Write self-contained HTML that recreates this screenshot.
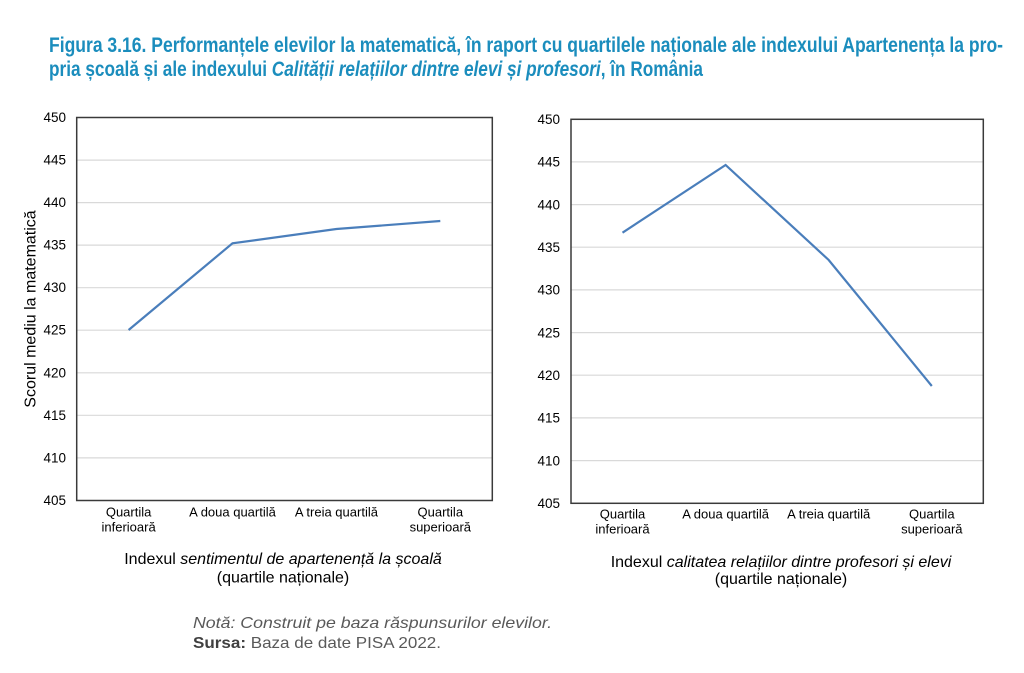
<!DOCTYPE html>
<html><head><meta charset="utf-8"><style>html,body{margin:0;padding:0;background:#fff}svg{display:block}</style></head><body>
<svg width="1024" height="673" viewBox="0 0 1024 673" xmlns="http://www.w3.org/2000/svg" font-family="'Liberation Sans', Arial, sans-serif">
<rect width="1024" height="673" fill="#fff"/>
<!-- Title -->
<text x="49" y="52" font-size="21" font-weight="bold" fill="#1b8dbd" textLength="954" lengthAdjust="spacingAndGlyphs">Figura 3.16. Performanțele elevilor la matematică, în raport cu quartilele naționale ale indexului Apartenența la pro-</text>
<text x="49" y="76" font-size="21" font-weight="bold" fill="#1b8dbd" textLength="654" lengthAdjust="spacingAndGlyphs">pria școală și ale indexului <tspan font-style="italic">Calității relațiilor dintre elevi și profesori</tspan>, în România</text>

<!-- Left chart grid -->
<g stroke="#d9d9d9" stroke-width="1.2">
<line x1="77" x2="492" y1="160.1" y2="160.1"/>
<line x1="77" x2="492" y1="202.6" y2="202.6"/>
<line x1="77" x2="492" y1="245.1" y2="245.1"/>
<line x1="77" x2="492" y1="287.7" y2="287.7"/>
<line x1="77" x2="492" y1="330.2" y2="330.2"/>
<line x1="77" x2="492" y1="372.8" y2="372.8"/>
<line x1="77" x2="492" y1="415.3" y2="415.3"/>
<line x1="77" x2="492" y1="457.9" y2="457.9"/>
</g>
<rect x="76.7" y="117.5" width="415.6" height="383" fill="none" stroke="#3a3a3a" stroke-width="1.5"/>
<g font-size="13.5" fill="#000" text-anchor="end">
<text x="66" y="122">450</text>
<text x="66" y="164.6">445</text>
<text x="66" y="207.1">440</text>
<text x="66" y="249.6">435</text>
<text x="66" y="292.2">430</text>
<text x="66" y="334.7">425</text>
<text x="66" y="377.3">420</text>
<text x="66" y="419.8">415</text>
<text x="66" y="462.4">410</text>
<text x="66" y="505">405</text>
</g>
<polyline points="128.6,330 232.5,243.3 336.4,229 440.3,221" fill="none" stroke="#4a7ebb" stroke-width="2.2" stroke-linejoin="miter"/>
<text transform="translate(35.5,309) rotate(-90)" font-size="16" text-anchor="middle" fill="#000">Scorul mediu la matematică</text>
<g font-size="13" text-anchor="middle" fill="#000">
<text x="128.6" y="516.5">Quartila</text>
<text x="128.6" y="531.5">inferioară</text>
<text x="232.5" y="516.5">A doua quartilă</text>
<text x="336.4" y="516.5">A treia quartilă</text>
<text x="440.3" y="516.5">Quartila</text>
<text x="440.3" y="531.5">superioară</text>
</g>
<g font-size="16" text-anchor="middle" fill="#000">
<text x="283" y="564">Indexul <tspan font-style="italic">sentimentul de apartenență la școală</tspan></text>
<text x="283" y="582.5">(quartile naționale)</text>
</g>

<!-- Right chart grid -->
<g stroke="#d9d9d9" stroke-width="1.2">
<line x1="571" x2="983" y1="161.9" y2="161.9"/>
<line x1="571" x2="983" y1="204.6" y2="204.6"/>
<line x1="571" x2="983" y1="247.2" y2="247.2"/>
<line x1="571" x2="983" y1="289.9" y2="289.9"/>
<line x1="571" x2="983" y1="332.6" y2="332.6"/>
<line x1="571" x2="983" y1="375.2" y2="375.2"/>
<line x1="571" x2="983" y1="417.9" y2="417.9"/>
<line x1="571" x2="983" y1="460.6" y2="460.6"/>
</g>
<rect x="571" y="119.3" width="412.3" height="384" fill="none" stroke="#3a3a3a" stroke-width="1.5"/>
<g font-size="13.5" fill="#000" text-anchor="end">
<text x="560" y="124">450</text>
<text x="560" y="166.6">445</text>
<text x="560" y="209.3">440</text>
<text x="560" y="251.9">435</text>
<text x="560" y="294.6">430</text>
<text x="560" y="337.3">425</text>
<text x="560" y="379.9">420</text>
<text x="560" y="422.6">415</text>
<text x="560" y="465.3">410</text>
<text x="560" y="508">405</text>
</g>
<polyline points="622.5,232.7 725.6,165 828.7,260 931.8,386" fill="none" stroke="#4a7ebb" stroke-width="2.2" stroke-linejoin="miter"/>
<g font-size="13" text-anchor="middle" fill="#000">
<text x="622.5" y="518.5">Quartila</text>
<text x="622.5" y="533.5">inferioară</text>
<text x="725.6" y="518.5">A doua quartilă</text>
<text x="828.7" y="518.5">A treia quartilă</text>
<text x="931.8" y="518.5">Quartila</text>
<text x="931.8" y="533.5">superioară</text>
</g>
<g font-size="16" text-anchor="middle" fill="#000">
<text x="781" y="567">Indexul <tspan font-style="italic">calitatea relațiilor dintre profesori și elevi</tspan></text>
<text x="781" y="584">(quartile naționale)</text>
</g>

<!-- Notes -->
<text x="193" y="628" font-size="16" font-style="italic" fill="#595959" textLength="359" lengthAdjust="spacingAndGlyphs">Notă: Construit pe baza răspunsurilor elevilor.</text>
<text x="193" y="648" font-size="16" fill="#595959" textLength="248" lengthAdjust="spacingAndGlyphs"><tspan font-weight="bold" fill="#404040">Sursa:</tspan> Baza de date PISA 2022.</text>
</svg>
</body></html>
